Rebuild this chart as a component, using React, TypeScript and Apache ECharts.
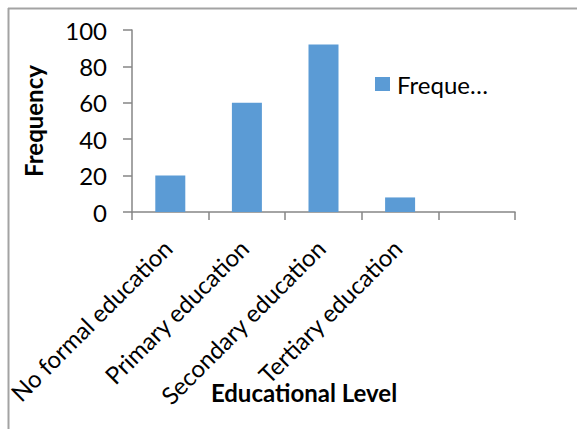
import React, { useEffect, useRef } from "react";
import * as echarts from "echarts";

const categories = [
  "No formal education",
  "Primary education",
  "Secondary education",
  "Tertiary education",
  "",
];
const frequency: (number | null)[] = [20, 60, 92, 8, null];
const seriesName = "Frequency";
const legendLabel = "Freque…";
const xAxisTitle = "Educational Level";
const yAxisTitle = "Frequency";
const yMin = 0;
const yMax = 100;
const yStep = 20;

const FONT = "Lato, 'Open Sans', sans-serif";
const AXIS_COLOR = "#868686";
const BAR_COLOR = "#5b9bd5";

export default function App() {
  const ref = useRef<HTMLDivElement>(null);

  useEffect(() => {
    if (!ref.current) return;
    const chart = echarts.init(ref.current, null, { renderer: "svg" });
    chart.setOption({
      animation: false,
      textStyle: { fontFamily: FONT },
      graphic: [
        {
          type: "line",
          shape: { x1: 8, y1: 8.5, x2: 577, y2: 8.5 },
          style: { stroke: "#a3a3a3", lineWidth: 2 },
        },
        {
          type: "line",
          shape: { x1: 8.5, y1: 8, x2: 8.5, y2: 429 },
          style: { stroke: "#a3a3a3", lineWidth: 2 },
        },
      ],
      grid: { left: 132, right: 62, top: 30, bottom: 217, containLabel: false },
      legend: {
        show: true,
        left: 375,
        top: 72,
        padding: 0,
        itemWidth: 15,
        itemHeight: 14,
        itemGap: 7,
        icon: "rect",
        formatter: () => legendLabel,
        textStyle: { fontFamily: FONT, fontSize: 24, color: "#000", padding: [0, 0, 0, 2] },
        data: [seriesName],
      },
      xAxis: {
        type: "category",
        data: categories,
        boundaryGap: true,
        axisLine: { lineStyle: { color: AXIS_COLOR, width: 1.5 } },
        axisTick: { show: true, length: 8, alignWithLabel: false, lineStyle: { color: AXIS_COLOR, width: 1.5 } },
        axisLabel: {
          rotate: 45,
          interval: 0,
          margin: 29,
          padding: [0, 4, 0, 0],
          fontFamily: FONT,
          fontSize: 24,
          color: "#000",
        },
        name: xAxisTitle,
        nameLocation: "middle",
        nameGap: 168,
        nameMoveOverlap: false,
        nameTextStyle: {
          fontFamily: FONT,
          fontSize: 24,
          fontWeight: "bold",
          color: "#000",
          padding: [0, 39, 0, 0],
        },
      },
      yAxis: {
        type: "value",
        min: yMin,
        max: yMax,
        interval: yStep,
        splitLine: { show: false },
        axisLine: { show: true, lineStyle: { color: AXIS_COLOR, width: 1.5 } },
        axisTick: { show: true, length: 9, lineStyle: { color: AXIS_COLOR, width: 1.5 } },
        axisLabel: { margin: 25, fontFamily: FONT, fontSize: 24, color: "#000" },
        name: yAxisTitle,
        nameLocation: "middle",
        nameGap: 87,
        nameMoveOverlap: false,
        nameTextStyle: { fontFamily: FONT, fontSize: 24, fontWeight: "bold", color: "#000" },
      },
      series: [
        {
          type: "bar",
          name: seriesName,
          data: frequency,
          barWidth: 30,
          itemStyle: { color: BAR_COLOR },
        },
      ],
    });
    return () => chart.dispose();
  }, []);

  return (
    <div
      ref={ref}
      style={{ position: "fixed", left: 0, top: 0, width: 577, height: 429, background: "#fff" }}
    />
  );
}
